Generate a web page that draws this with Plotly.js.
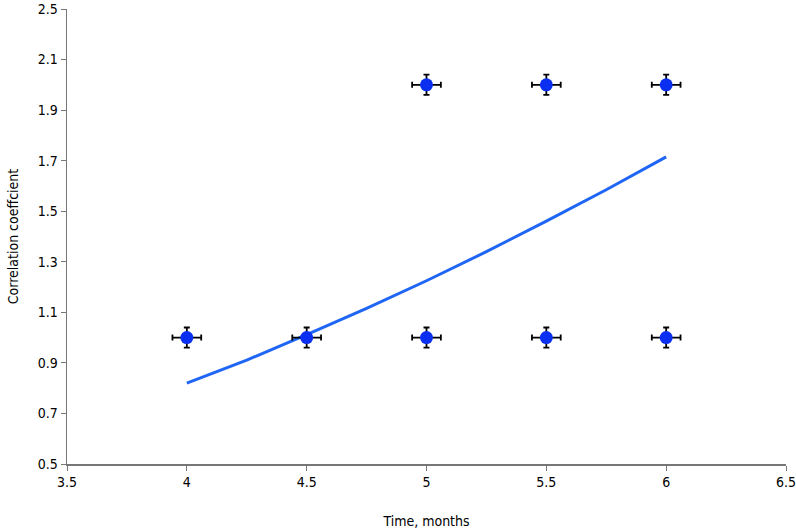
<!DOCTYPE html>
<html><head><meta charset="utf-8">
<script src="https://cdn.plot.ly/plotly-3.0.1.min.js"></script>
<style>body{margin:0;background:#fff}#c{width:796px;height:532px}</style>
</head><body><div id="c"></div>
<script>
var pointX = [4, 4.5, 5, 5, 5.5, 5.5, 6, 6];
var pointY = [1, 1, 1, 2, 1, 2, 1, 2];
var errX = [0.06, 0.06, 0.06, 0.06, 0.06, 0.06, 0.06, 0.06];
var errY = [0.04, 0.04, 0.04, 0.04, 0.04, 0.04, 0.04, 0.04];
var curveX = [4, 4.25, 4.5, 4.75, 5, 5.25, 5.5, 5.75, 6];
var curveY = [0.82, 0.911, 1.012, 1.116, 1.225, 1.34, 1.461, 1.585, 1.715];
var yTickVals = [0.5, 0.7, 0.9, 1.1, 1.3, 1.5, 1.7, 1.9, 2.1, 2.3];
var yTickText = ['0.5', '0.7', '0.9', '1.1', '1.3', '1.5', '1.7', '1.9', '2.1', '2.5'];
var xTicks = [3.5, 4, 4.5, 5, 5.5, 6, 6.5];
var fnt = {family: '"DejaVu Sans Condensed", "Liberation Sans Narrow", sans-serif', size: 14, color: '#000'};
var traces = [
  {x: curveX, y: curveY, mode: 'lines', line: {color: '#1f66f5', width: 3}, hoverinfo: 'none'},
  {x: pointX, y: pointY, mode: 'markers', marker: {color: '#0a2ff0', size: 13},
   error_x: {type: 'data', array: errX, color: '#000', thickness: 1.8, width: 3},
   error_y: {type: 'data', array: errY, color: '#000', thickness: 1.8, width: 3}}
];
var layout = {
  width: 796, height: 532, showlegend: false,
  margin: {l: 67, r: 10, t: 9, b: 68},
  paper_bgcolor: '#fff', plot_bgcolor: '#fff', font: fnt,
  xaxis: {range: [3.5, 6.5], tickvals: xTicks, ticktext: xTicks.map(String), showgrid: false, zeroline: false,
    showline: true, linecolor: '#777', linewidth: 1.5, ticks: 'outside', ticklen: 5, tickcolor: '#777',
    ticklabeloverflow: 'allow', automargin: false,
    tickfont: fnt, title: {text: 'Time, months', font: fnt, standoff: 27}},
  yaxis: {range: [0.5, 2.3], tickvals: yTickVals, ticktext: yTickText, showgrid: false, zeroline: false,
    showline: true, linecolor: '#777', linewidth: 1.5, ticks: 'outside', ticklen: 5, tickcolor: '#777',
    ticklabeloverflow: 'allow', automargin: false,
    tickfont: fnt, title: {text: 'Correlation coeffcient', font: fnt, standoff: 16}}
};
Plotly.newPlot('c', traces, layout, {staticPlot: true});
</script></body></html>
